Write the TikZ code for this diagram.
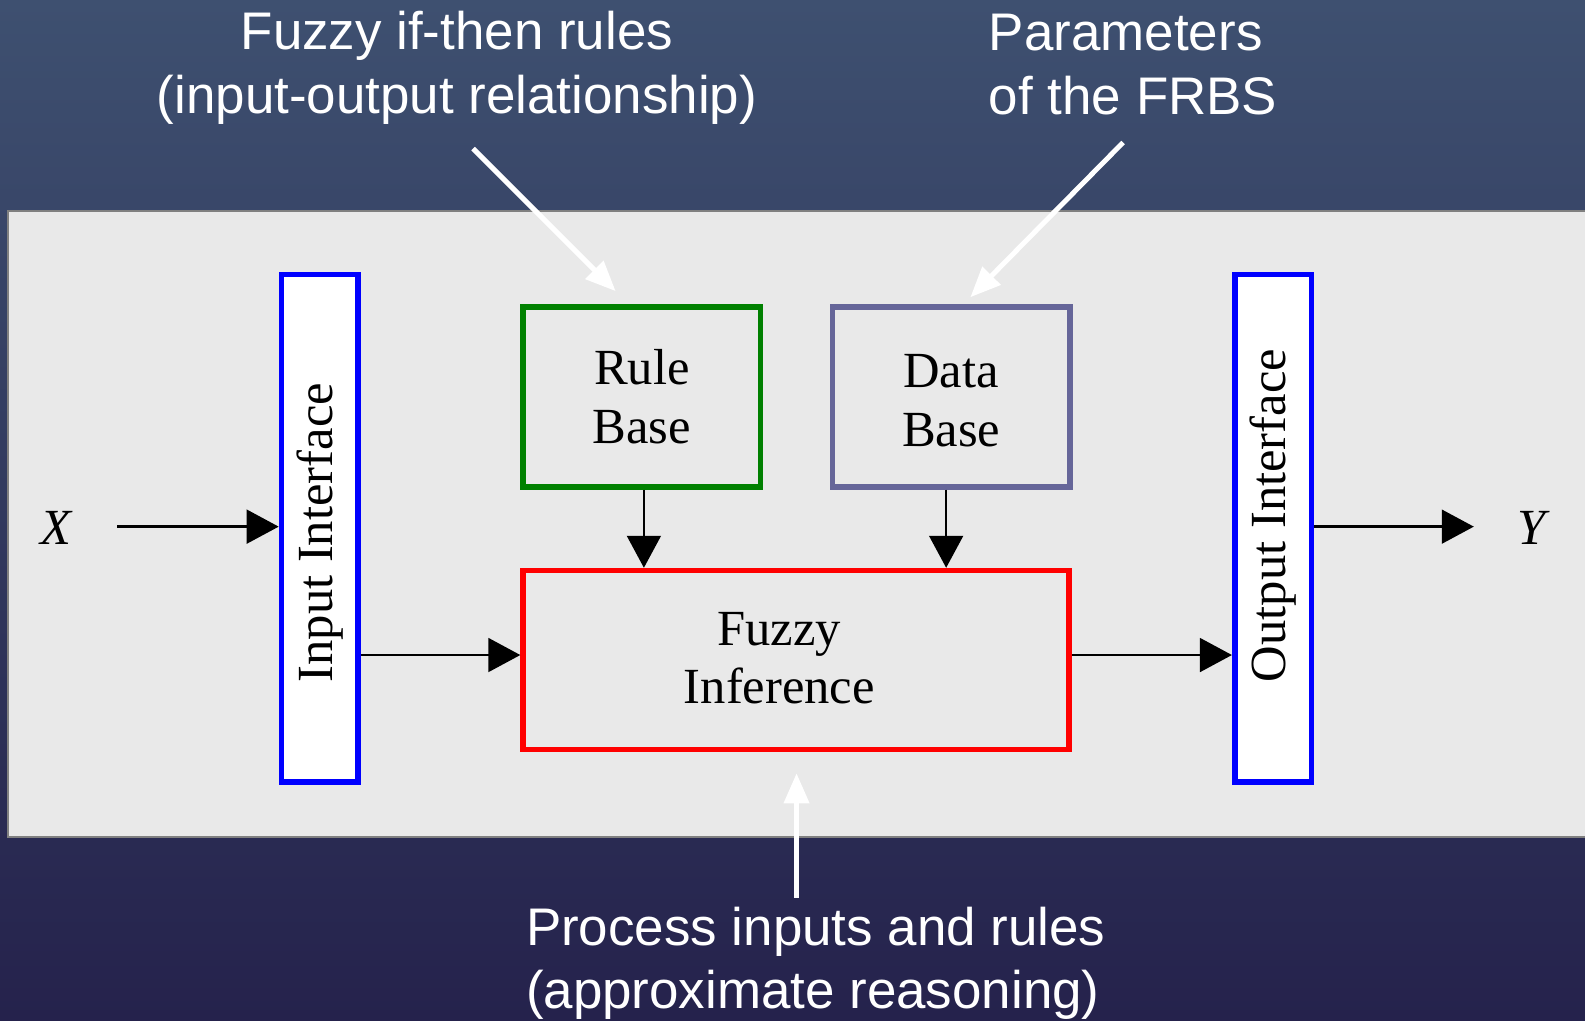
\documentclass[tikz,border=0pt]{standalone}
\usepackage{fontspec}
\setmainfont{Liberation Serif}
\newfontfamily\arialf{Liberation Sans}
\usetikzlibrary{arrows.meta,calc}
\definecolor{panelgray}{RGB}{233,233,233}
\definecolor{panelline}{RGB}{128,128,128}
\definecolor{dbcol}{RGB}{102,102,153}
\definecolor{rbgreen}{RGB}{0,128,0}
\definecolor{bgtop}{RGB}{62,80,112}
\definecolor{bgmid}{RGB}{72,96,126}
\definecolor{bgbot}{RGB}{37,34,76}
\tikzset{
  box/.style={draw, line width=3.2pt, inner sep=0pt, align=center, font=\fontsize{28.5}{33}\selectfont},
  tallbox/.style={box, fill=white, draw=blue, minimum width=1.52cm, minimum height=10.04cm},
  smallbox/.style={box, minimum width=4.7cm, minimum height=3.56cm, text=black},
  dtext/.style={font=\fontsize{28.5}{33}\selectfont, inner sep=0pt, align=center},
  conn/.style={line width=1.4pt, -{Triangle[length=18pt,width=19pt]}},
  warrow/.style={white, line width=2.8pt, -{Triangle[length=17pt,width=14pt]}},
  wtext/.style={white, font=\arialf\fontsize{29.8}{35.7}\selectfont, inner sep=0pt}
}
\begin{document}
\begin{tikzpicture}[x=0.02cm,y=-0.02cm]
\useasboundingbox (0,0) rectangle (1568,1010);
\shade[top color=bgtop, middle color=bgmid, bottom color=bgbot] (0,0) rectangle (1568,1010);
% panel
\draw[fill=panelgray, draw=panelline, line width=1.2pt] (1580,209) -- (8,209) -- (8,828) -- (1580,828);
% boxes
\node[tallbox] (inp) at (316.5,522.5) {};
\node[dtext, rotate=90] (inptxt) at (316.5,527) {Input Interface};
\node[smallbox, draw=rbgreen] (rb) at (635,392.5) {Rule\\Base};
\node[smallbox, draw=dbcol] (db) at (941,392.5) {};
\node[dtext] (dbtxt) at (941,396.5) {Data\\Base};
\node[box, draw=red, minimum width=10.8cm, minimum height=3.54cm] (fz) at (787.5,653) {};
\node[dtext] (fztxt) at (771,651) {Fuzzy\\Inference};
\node[tallbox] (out) at (1259.5,522.5) {};
\node[dtext, rotate=90] (outtxt) at (1259.5,510) {Output Interface};
% X and Y
\node[dtext, font=\fontsize{28.5}{33}\selectfont\itshape] (X) at (55,522) {X};
\node[dtext, font=\fontsize{28.5}{33}\selectfont\itshape] (Y) at (1515,522) {Y};
% connectors
\coordinate (xs) at (116,521);
\draw[conn] (xs) -- (inp.west |- xs);
\draw[conn] (inp.east |- 0,648) -- (fz.west |- 0,648);
\draw[conn] (fz.east |- 0,648) -- (out.west |- 0,648);
\coordinate (ye) at (1458,521);
\draw[conn] (out.east |- ye) -- (ye);
\draw[conn] ([xshift=0.04cm]rb.south) -- ([xshift=0.04cm]rb.south |- fz.north);
\draw[conn] ([xshift=-0.1cm]db.south) -- ([xshift=-0.1cm]db.south |- fz.north);
% white annotations
\node[wtext, align=center] (t1) at (452,67) {Fuzzy if-then rules\\(input-output relationship)};
\node[wtext, align=left, anchor=west] (t2) at (978,64) {Parameters\\of the FRBS};
\node[wtext, align=left, anchor=west] (t3) at (520,953) {Process inputs and rules\\(approximate reasoning)};
\coordinate (a1s) at (468,147);
\coordinate (a1e) at (609,288);
\coordinate (a2s) at (1111,141);
\coordinate (a2e) at (960,294);
\coordinate (a3s) at (788,888);
\coordinate (a3e) at (788,765);
\draw[warrow] (a1s) -- (a1e);
\draw[warrow] (a2s) -- (a2e);
\draw[warrow] (a3s) -- (a3e);
\end{tikzpicture}
\end{document}
